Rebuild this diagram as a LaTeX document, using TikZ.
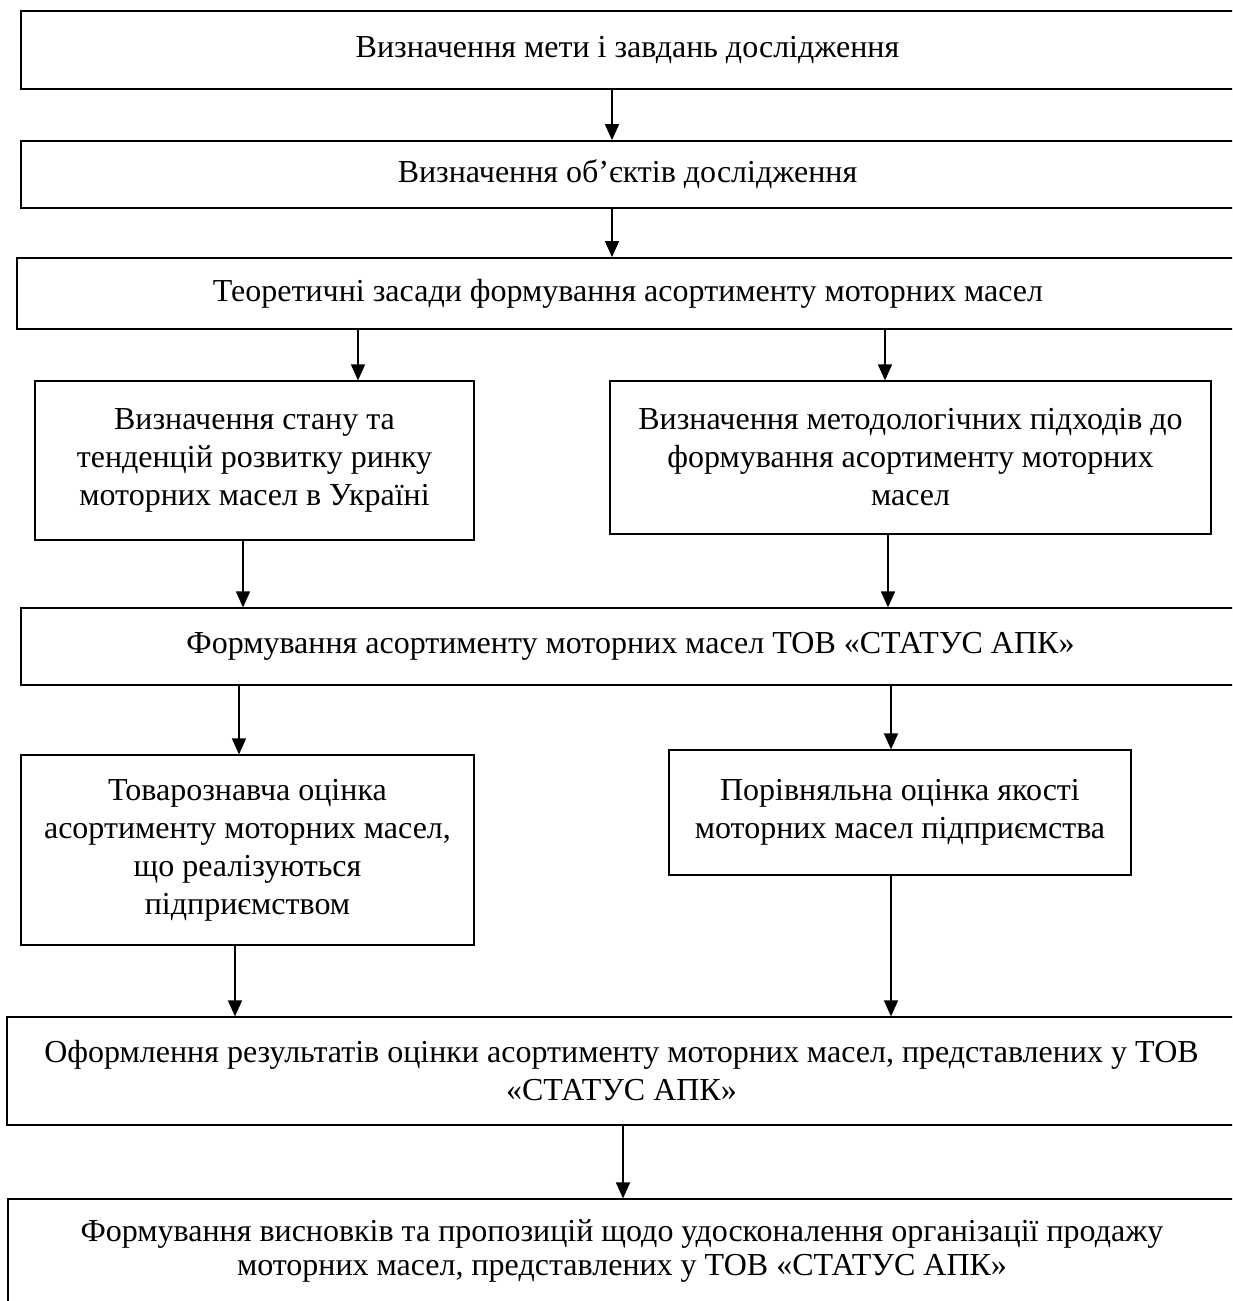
\documentclass[tikz,border=0pt]{standalone}
\usepackage{fontspec}
\setmainfont{Liberation Serif}
\usetikzlibrary{arrows.meta}
\begin{document}
\begin{tikzpicture}[x=1pt,y=-1pt,
  box/.style={draw, line width=1.2pt, align=center, inner sep=0pt,
    font=\fontsize{32}{38}\selectfont},
  thickbox/.style={box, line width=1.8pt},
  arr/.style={-{Triangle[width=14pt,length=16pt]}, line width=1.6pt}]
\clip (0,0) rectangle (1232,1301);
\fill[white] (0,0) rectangle (1232,1301);

\node[thickbox, minimum width=1213pt, minimum height=78pt] (b1) at (627.5,50)
  {Визначення мети і завдань дослідження};
\node[thickbox, minimum width=1213pt, minimum height=67pt] (b2) at (627.5,174.5)
  {Визначення об’єктів дослідження};
\node[thickbox, minimum width=1222pt, minimum height=71pt] (b3) at (628,293.5)
  {Теоретичні засади формування асортименту моторних масел};
\node[box, minimum width=439pt, minimum height=159pt] (b4l) at (254.5,460.5)
  {Визначення стану та\\тенденцій розвитку ринку\\моторних масел в Україні};
\node[box, minimum width=601pt, minimum height=153pt] (b4r) at (910.5,457.5)
  {Визначення методологічних підходів до\\формування асортименту моторних\\масел};
\node[box, minimum width=1219pt, minimum height=77pt] (b5) at (630.5,646.5)
  {Формування асортименту моторних масел ТОВ «СТАТУС АПК»};
\node[box, minimum width=453pt, minimum height=190pt] (b6l) at (247.5,850)
  {Товарознавча оцінка\\асортименту моторних масел,\\що реалізуються\\підприємством};
\node[box, minimum width=462pt, minimum height=125pt] (b6r) at (900,812.5)
  {Порівняльна оцінка якості\\моторних масел підприємства};
\node[box, minimum width=1229pt, minimum height=108pt] (b7) at (621.5,1071)
  {Оформлення результатів оцінки асортименту моторних масел, представлених у ТОВ\\«СТАТУС АПК»};
\node[box, minimum width=1228pt, minimum height=104pt, font=\fontsize{32}{34}\selectfont] (b8) at (622,1251)
  {Формування висновків та пропозицій щодо удосконалення організації продажу\\моторних масел, представлених у ТОВ «СТАТУС АПК»};

\coordinate (c612) at (612,0);
\coordinate (c358) at (358,0);
\coordinate (c885) at (885,0);
\coordinate (c243) at (243,0);
\coordinate (c888) at (888,0);
\coordinate (c239) at (239,0);
\coordinate (c891) at (891,0);
\coordinate (c235) at (235,0);
\coordinate (c623) at (623,0);

\draw[arr] (b1.south -| c612) -- (b2.north -| c612);
\draw[arr] (b2.south -| c612) -- (b3.north -| c612);
\draw[arr] (b3.south -| c358) -- (b4l.north -| c358);
\draw[arr] (b3.south -| c885) -- (b4r.north -| c885);
\draw[arr] (b4l.south -| c243) -- (b5.north -| c243);
\draw[arr] (b4r.south -| c888) -- (b5.north -| c888);
\draw[arr] (b5.south -| c239) -- (b6l.north -| c239);
\draw[arr] (b5.south -| c891) -- (b6r.north -| c891);
\draw[arr] (b6l.south -| c235) -- (b7.north -| c235);
\draw[arr] (b6r.south -| c891) -- (b7.north -| c891);
\draw[arr] (b7.south -| c623) -- (b8.north -| c623);
\end{tikzpicture}
\end{document}
